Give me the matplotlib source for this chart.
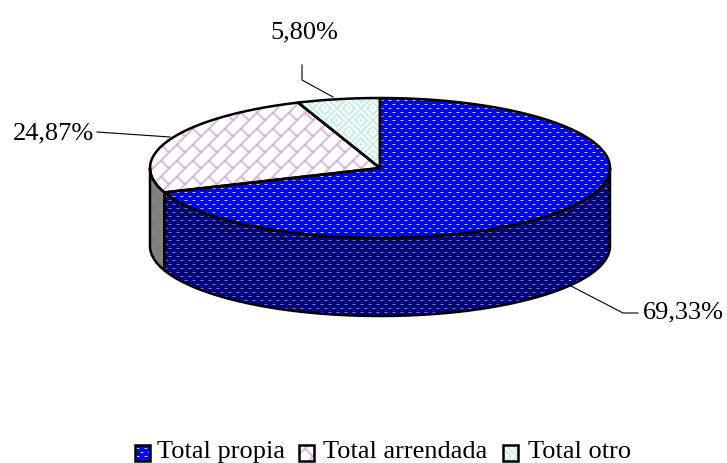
import numpy as np
import matplotlib
matplotlib.use("Agg")
import matplotlib.pyplot as plt
from matplotlib.patches import Polygon

categories = ["Total propia", "Total arrendada", "Total otro"]
values = [69.33, 24.87, 5.80]
labels = ["69,33%", "24,87%", "5,80%"]

W, H = 727, 463
cx, cy, rx, ry, depth = 380, 168, 230, 70, 78

yy, xx = np.mgrid[0:H, 0:W]


def solid(rgb):
    img = np.ones((H, W, 3))
    img[:, :] = np.array(rgb) / 255
    return img


def blur(img):
    out = img.copy()
    for ax_, s in [(0, 1), (0, -1), (1, 1), (1, -1)]:
        out = out + 0.5 * np.roll(img, s, axis=ax_)
    return out / 3


def dots(base, light):
    # staggered dots, bright core with a soft edge
    img = solid(base)
    light = np.array(light) / 255
    edge = (light + np.array(base) / 255) / 2
    odd = (xx + 4 * ((yy // 4) % 2)) % 8
    row = yy % 4 == 0
    img[row & (odd < 4)] = edge
    img[row & (odd >= 1) & (odd < 3)] = light
    return img


def bricks(base, line):
    img = solid(base)
    u = xx + yy
    v = xx - yy + ((u // 16) % 2) * 16
    img[(u % 16 < 2) | (v % 32 < 2)] = np.array(line) / 255
    return blur(img)


def weave(base, line):
    # diagonal basket weave
    img = solid(base)
    even = ((xx // 12) + (yy // 12)) % 2 == 0
    img[even & ((xx + yy) % 6 < 2)] = np.array(line) / 255
    img[~even & ((xx - yy) % 6 < 2)] = np.array(line) / 255
    return blur(img)


fill_top = [dots((0, 0, 255), (185, 200, 255)),
            bricks((255, 255, 255), (205, 155, 205)),
            weave((255, 255, 255), (170, 228, 222))]
fill_side = [dots((0, 0, 128), (125, 130, 180)),
             bricks((128, 128, 128), (150, 125, 150)),
             weave((128, 128, 128), (110, 140, 135))]


def rim(a0, a1, dy=0):
    t = np.radians(np.linspace(a0, a1, 200))
    return np.column_stack([cx + rx * np.sin(t), cy + dy - ry * np.cos(t)])


def textured(ax, pts, img, join="round"):
    poly = Polygon(pts, closed=True, fc="none", ec="black", lw=1.8, zorder=3, joinstyle=join)
    ax.add_patch(poly)
    im = ax.imshow(img, extent=(0, W, H, 0), interpolation="nearest", zorder=2, aspect="auto")
    im.set_clip_path(poly)


fig = plt.figure(figsize=(W / 100, H / 100), dpi=100)
ax = fig.add_axes([0, 0, 1, 1])

# slices run clockwise from 12 o'clock
edges = np.concatenate([[0], np.cumsum(values) / sum(values) * 360])

# side wall, only the front half of the rim shows
for i in range(len(values)):
    a0, a1 = max(edges[i], 90), min(edges[i + 1], 270)
    if a1 <= a0:
        continue
    top = rim(a0, a1)
    bottom = rim(a0, a1, depth)[::-1]
    textured(ax, np.vstack([top, bottom]), fill_side[i])

# top face
for i in range(len(values)):
    pts = np.vstack([[[cx, cy]], rim(edges[i], edges[i + 1])])
    textured(ax, pts, fill_top[i])

# leader lines
ax.plot([638, 623, 569], [313, 313, 285], color="black", lw=0.8, zorder=4)
ax.plot([97, 170], [132, 137], color="black", lw=0.8, zorder=4)
ax.plot([302, 302, 333], [65, 80, 97], color="black", lw=0.8, zorder=4)

font = {"family": "Liberation Serif", "size": 19, "color": "black"}
ax.text(643, 318, labels[0], ha="left", va="baseline", **font)
ax.text(13, 139, labels[1], ha="left", va="baseline", **font)
ax.text(270, 38, labels[2], ha="left", va="baseline", **font)

# legend
sw_x = [135, 299, 503]
txt_x = [157, 323, 528]
for i, name in enumerate(categories):
    sw = np.array([[sw_x[i], 445], [sw_x[i] + 15, 445], [sw_x[i] + 15, 461], [sw_x[i], 461]])
    textured(ax, sw, fill_top[i], join="miter")
    ax.text(txt_x[i], 458, name, ha="left", va="baseline", family="Liberation Serif", size=19, color="black")

ax.set_xlim(0, W)
ax.set_ylim(H, 0)
ax.axis("off")
fig.savefig("out.png", dpi=100)
